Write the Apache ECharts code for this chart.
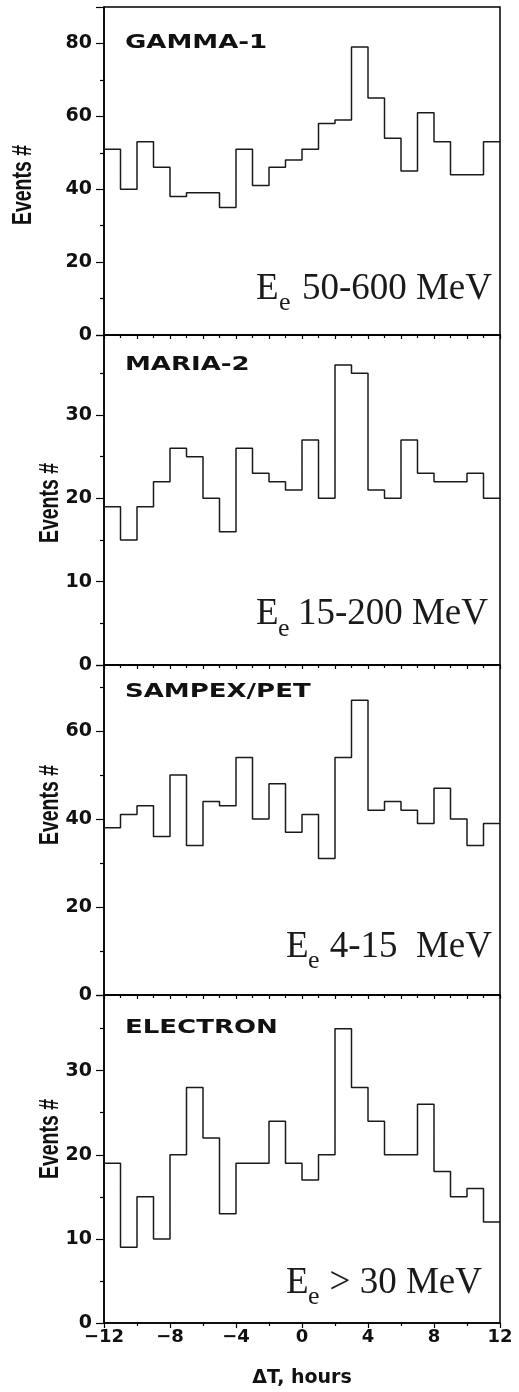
<!DOCTYPE html>
<html>
<head>
<meta charset="utf-8">
<script src="https://cdn.jsdelivr.net/npm/echarts@6/dist/echarts.min.js"></script>
<style>
html,body{margin:0;padding:0;background:#fff;}
#chart{width:519px;height:1392px;}
</style>
</head>
<body>
<div id="chart"></div>
<script>
// Bin edges (hours), 24 one-hour bins from -12 to 12
const hourEdges = [-12,-11,-10,-9,-8,-7,-6,-5,-4,-3,-2,-1,0,1,2,3,4,5,6,7,8,9,10,11,12];

// Counts per bin
const gamma1   = [51,40,53,46,38,39,39,35,51,41,46,48,51,58,59,79,65,54,45,61,53,44,44,53];
const maria2   = [19,15,19,22,26,25,20,16,26,23,22,21,27,20,36,35,21,20,27,23,22,22,23,20];
const sampex   = [38,41,43,36,50,34,44,43,54,40,48,37,41,31,54,67,42,44,42,39,47,40,34,39];
const electron = [19,9,15,10,20,28,22,13,19,19,24,19,17,20,35,28,24,20,20,26,18,15,16,12];

// Panel texts
const panelNames  = ['GAMMA-1','MARIA-2','SAMPEX/PET','ELECTRON'];
const energyTexts = ['50-600 MeV','15-200 MeV','4-15  MeV','> 30 MeV'];
const yMax        = [90, 39.6, 75, 39];
const yInterval   = [20, 10, 20, 10];
const yName = 'Events #';
const xName = 'ΔT, hours';

const seriesValues = [gamma1, maria2, sampex, electron];

// layout
const gridTop    = [7, 335, 665, 995];
const gridHeight = [328, 330, 330, 328];
const gridLeft = 104, gridWidth = 396;
const titlePos  = [[125,43],[125,365],[125,692],[125,1028]];
const yNamePos  = [[23,185],[50,503],[50,805],[50,1139]];
const energyPos = [ // E left, main middle y, sub left, sub middle y, rest right
  [256,289,279,303,492],
  [256,614,278,629,488],
  [286,947,308,961,492],
  [286,1283,308,1297,482]
];

const sansBold = 'DejaVu Sans';
const ink = '#111';

const chart = echarts.init(document.getElementById('chart'), null, {renderer:'canvas'});

const grids = [], xAxes = [], yAxes = [], series = [], graphics = [];
for (let i = 0; i < 4; i++) {
  const last = i === 3;
  grids.push({
    left: gridLeft, width: gridWidth, top: gridTop[i], height: gridHeight[i],
    show: true, borderColor: '#000', borderWidth: 1.5, backgroundColor: 'transparent',
    containLabel: false, outerBoundsMode: 'none'
  });
  xAxes.push({
    type: 'value', gridIndex: i, min: -12, max: 12, interval: last ? 4 : 2,
    axisLine: {show: true, onZero: false, lineStyle: {color: '#000', width: 1.5}},
    axisTick: {show: true, inside: false, length: last ? 5 : 4, lineStyle: {color: '#000', width: 1.2}},
    minorTick: {show: true, splitNumber: 2, length: 3, lineStyle: {color: '#000', width: 1.2}},
    splitLine: {show: false}, minorSplitLine: {show: false},
    axisLabel: {
      show: last, margin: 5, color: ink, fontFamily: sansBold, fontWeight: 'bold', fontSize: 18,
      formatter: v => (v < 0 ? '\u2212' + (-v) : String(v))
    },
    name: last ? xName : '', nameLocation: 'middle', nameGap: 46,
    nameTextStyle: {color: ink, fontFamily: sansBold, fontWeight: 'bold', fontSize: 19}
  });
  yAxes.push({
    type: 'value', gridIndex: i, min: 0, max: yMax[i], interval: yInterval[i],
    axisLine: {show: true, onZero: false, lineStyle: {color: '#000', width: 1.5}},
    axisTick: {show: true, inside: false, length: 8, lineStyle: {color: '#000', width: 1.2}},
    minorTick: {show: true, splitNumber: 2, length: 4, lineStyle: {color: '#000', width: 1.2}},
    splitLine: {show: false}, minorSplitLine: {show: false},
    axisLabel: {
      margin: 12, color: ink, fontFamily: sansBold, fontWeight: 'bold', fontSize: 19,
      showMaxLabel: false
    }
  });
  const vals = seriesValues[i];
  series.push({
    type: 'line', step: 'end', xAxisIndex: i, yAxisIndex: i,
    symbol: 'none', animation: false,
    lineStyle: {color: '#1a1a1a', width: 1.5},
    data: hourEdges.map((h, k) => [h, vals[Math.min(k, vals.length - 1)]])
  });
  // panel title (bold sans, horizontally stretched like the original)
  graphics.push({
    type: 'text', x: titlePos[i][0], y: titlePos[i][1], scaleX: 1.3,
    style: {text: panelNames[i], fill: ink, font: 'bold 20px "' + sansBold + '"',
            textAlign: 'left', textVerticalAlign: 'middle', align: 'left', verticalAlign: 'middle'}
  });
  // y axis name
  graphics.push({
    type: 'text', x: yNamePos[i][0], y: yNamePos[i][1], rotation: Math.PI / 2, scaleY: 1.4,
    style: {text: yName, fill: ink, font: 'bold 19.5px "Liberation Sans"',
            textAlign: 'center', textVerticalAlign: 'middle', align: 'center', verticalAlign: 'middle'}
  });
  // energy label: E, subscript e, rest
  const p = energyPos[i];
  graphics.push({
    type: 'text', x: p[0], y: p[1],
    style: {text: 'E', fill: '#1a1a1a', font: '37px "Liberation Serif"',
            textAlign: 'left', textVerticalAlign: 'middle', align: 'left', verticalAlign: 'middle'}
  });
  graphics.push({
    type: 'text', x: p[2], y: p[3],
    style: {text: 'e', fill: '#1a1a1a', font: '26px "Liberation Serif"',
            textAlign: 'left', textVerticalAlign: 'middle', align: 'left', verticalAlign: 'middle'}
  });
  graphics.push({
    type: 'text', x: p[4], y: p[1],
    style: {text: energyTexts[i], fill: '#1a1a1a', font: '37px "Liberation Serif"',
            textAlign: 'right', textVerticalAlign: 'middle', align: 'right', verticalAlign: 'middle'}
  });
}

chart.setOption({
  animation: false,
  backgroundColor: '#fff',
  grid: grids,
  xAxis: xAxes,
  yAxis: yAxes,
  series: series,
  graphic: graphics
});
</script>
</body>
</html>
